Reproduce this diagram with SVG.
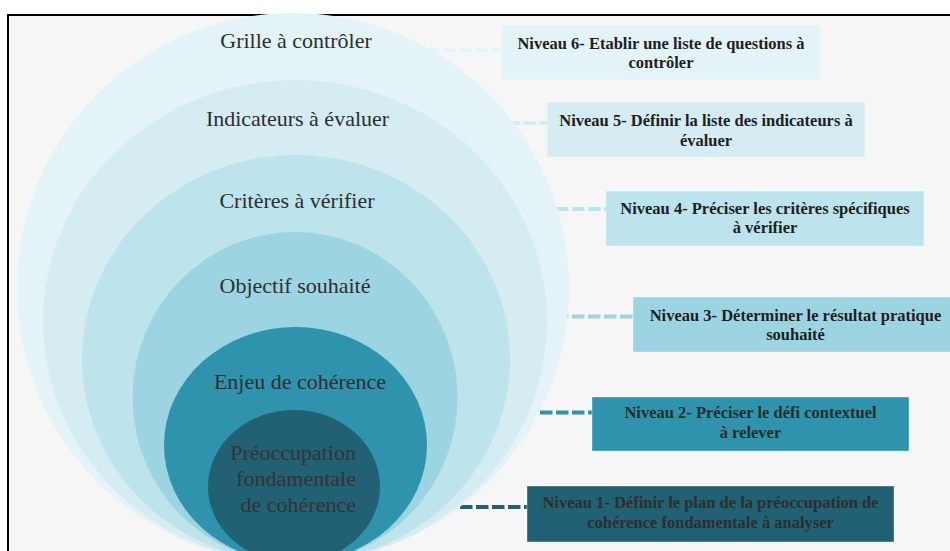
<svg xmlns="http://www.w3.org/2000/svg" width="950" height="551" viewBox="0 0 950 551">
<defs>
<style>
.ct{font-family:"Liberation Serif","Times New Roman",serif;font-size:22px;fill:#2e2e2e;text-anchor:middle}
.bt{font-family:"Liberation Serif","Times New Roman",serif;font-size:16.5px;font-weight:bold;fill:#1e1e1e;text-anchor:middle}
.box{stroke:#ffffff;stroke-opacity:0.35;stroke-width:1}
.dash{fill:none;stroke-width:4;stroke-dasharray:12.5 3.5}
</style>
</defs>
<rect x="0" y="0" width="950" height="551" fill="#ffffff"/>
<rect x="8" y="15" width="980" height="580" fill="#f6f6f6" stroke="#000000" stroke-width="2"/>
<g id="connectors">
<line class="dash" x1="300" y1="50" x2="501" y2="50" stroke="#e4f3f8" stroke-width="3"/>
<line class="dash" x1="300" y1="123" x2="547" y2="123" stroke="#d4ecf2"/>
<line class="dash" x1="300" y1="209" x2="606" y2="209" stroke="#bde3ec"/>
<line class="dash" x1="300" y1="316.5" x2="633" y2="316.5" stroke="#9dd4e2"/>
<line class="dash" x1="300" y1="412.5" x2="592" y2="412.5" stroke="#2f93ad"/>
<line class="dash" x1="300" y1="507" x2="527" y2="507" stroke="#216173"/>
</g>
<g id="c6"><ellipse cx="293" cy="288" rx="276" ry="275" fill="#e4f3f8"/><text class="ct" x="296" y="48">Grille à contrôler</text></g>
<g id="c5"><ellipse cx="295" cy="321.5" rx="252" ry="241.5" fill="#d4ecf2"/><text class="ct" x="297.5" y="126">Indicateurs à évaluer</text></g>
<g id="c4"><ellipse cx="296" cy="359" rx="214" ry="204" fill="#bde3ec"/><text class="ct" x="297" y="208">Critères à vérifier</text></g>
<g id="c3"><ellipse cx="295" cy="397.5" rx="162.5" ry="165.5" fill="#9dd4e2"/><text class="ct" x="295" y="293">Objectif souhaité</text></g>
<g id="c2"><ellipse cx="295.5" cy="445" rx="131.5" ry="118" fill="#2f93ad"/><text class="ct" x="300" y="389">Enjeu de cohérence</text></g>
<g id="c1"><ellipse cx="294" cy="486.5" rx="86" ry="76.5" fill="#216173"/>
<text class="ct" style="text-anchor:end;fill:#333333" x="356" y="460">Préoccupation</text>
<text class="ct" style="text-anchor:end;fill:#333333" x="356" y="486">fondamentale</text>
<text class="ct" style="text-anchor:end;fill:#333333" x="356" y="512">de cohérence</text></g>
<g id="n6"><rect class="box" x="501" y="25" width="320" height="55" fill="#e4f3f8"/><text class="bt" x="661" y="49">Niveau 6- Etablir une liste de questions à</text><text class="bt" x="661" y="68">contrôler</text></g>
<g id="n5"><rect class="box" x="547" y="102" width="318" height="55" fill="#d4ecf2"/><text class="bt" x="706" y="126">Niveau 5- Définir la liste des indicateurs à</text><text class="bt" x="706" y="146">évaluer</text></g>
<g id="n4"><rect class="box" x="606" y="191" width="318" height="55" fill="#bde3ec"/><text class="bt" x="765" y="214">Niveau 4- Préciser les critères spécifiques</text><text class="bt" x="765" y="233">à vérifier</text></g>
<g id="n3"><rect class="box" x="633" y="297" width="325" height="55" fill="#9dd4e2"/><text class="bt" x="795.5" y="321">Niveau 3- Déterminer le résultat pratique</text><text class="bt" x="795.5" y="340">souhaité</text></g>
<g id="n2"><rect class="box" x="592" y="397" width="317" height="54" fill="#2f93ad"/><text class="bt" style="fill:#2b2b2b" x="750.5" y="418">Niveau 2- Préciser le défi contextuel</text><text class="bt" style="fill:#2b2b2b" x="750.5" y="438">à relever</text></g>
<g id="n1"><rect class="box" x="527" y="486" width="367" height="56" fill="#216173"/><text class="bt" style="fill:#2e2e2e" x="710.5" y="508">Niveau 1- Définir le plan de la préoccupation de</text><text class="bt" style="fill:#2e2e2e" x="710.5" y="528">cohérence fondamentale à analyser</text></g>
</svg>
